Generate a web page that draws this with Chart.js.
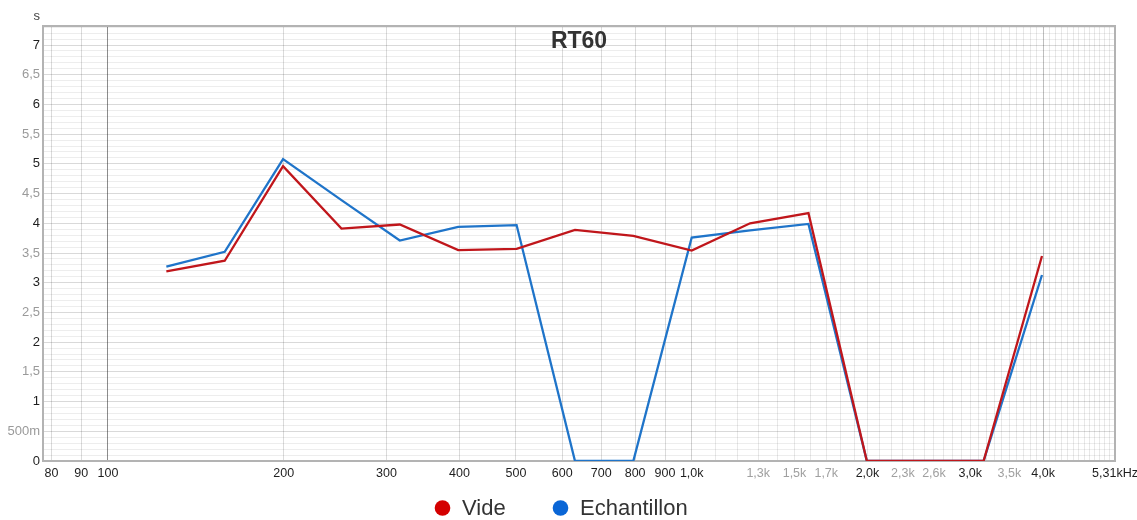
<!DOCTYPE html>
<html>
<head>
<meta charset="utf-8">
<title>RT60</title>
<script src="https://cdn.jsdelivr.net/npm/chart.js@4.4.1/dist/chart.umd.min.js"></script>
<style>
  html, body { margin: 0; padding: 0; background: #ffffff; }
  #wrap { position: relative; width: 1137px; height: 520px; }
</style>
</head>
<body>
<div id="wrap"><canvas id="rt60"></canvas></div>
<script>
// Third-octave band centres (Hz, exact base-10 values) and reverberation times (s)
const frequencies = [125.9, 158.5, 199.5, 251.2, 316.2, 398.1, 501.2, 631.0, 794.3, 1000, 1258.9, 1584.9, 1995.3, 2511.9, 3162.3, 3981.1];
const videRT60 = [3.19, 3.37, 4.96, 3.91, 3.98, 3.55, 3.57, 3.89, 3.79, 3.54, 4.00, 4.17, 0, 0, 0, 3.45];
const echantillonRT60 = [3.27, 3.52, 5.08, 4.39, 3.71, 3.94, 3.97, 0, 0, 3.76, 3.88, 3.99, 0, 0, 0, 3.13];

// Axis labels
const xTickValues = [80, 90, 100, 200, 300, 400, 500, 600, 700, 800, 900, 1000, 1300, 1500, 1700, 2000, 2300, 2600, 3000, 3500, 4000, 5310];
const xTickLabels = ['80', '90', '100', '200', '300', '400', '500', '600', '700', '800', '900', '1,0k', '1,3k', '1,5k', '1,7k', '2,0k', '2,3k', '2,6k', '3,0k', '3,5k', '4,0k', '5,31kHz'];
const xMutedLabels = ['1,3k', '1,5k', '1,7k', '2,3k', '2,6k', '3,5k'];
const yTickValues = [0, 0.5, 1, 1.5, 2, 2.5, 3, 3.5, 4, 4.5, 5, 5.5, 6, 6.5, 7];
const yTickLabels = ['0', '500m', '1', '1,5', '2', '2,5', '3', '3,5', '4', '4,5', '5', '5,5', '6', '6,5', '7'];

const X_MIN = 77.4, X_MAX = 5310;
const Y_MIN = 0, Y_MAX = 7.32;

// Grid: 10 Hz steps below 100 Hz, 100 Hz steps above; 0.1 s steps vertically
const xGrid = [80, 90];
for (let f = 100; f <= 5300; f += 100) xGrid.push(f);
xGrid.push(5310);
const yGrid = [];
for (let i = 0; i <= 73; i++) yGrid.push(i / 10);

const near = (a, b) => Math.abs(a - b) < 1e-6;
const xLabelOf = v => { const i = xTickValues.findIndex(t => near(t, v)); return i < 0 ? '' : xTickLabels[i]; };
const yLabelOf = v => { const i = yTickValues.findIndex(t => near(t, v)); return i < 0 ? '' : yTickLabels[i]; };

Chart.defaults.font.family = "'Liberation Sans', Arial, Helvetica, sans-serif";

const legendColors = ['#d40000', '#0a66d6'];

// Frame, title, unit and legend row drawn around the plot area
const decorations = {
  id: 'decorations',
  beforeDatasetsDraw(chart) {
    const { ctx, chartArea: a } = chart;
    ctx.save();
    ctx.strokeStyle = '#b3b3b3';
    ctx.lineWidth = 2;
    ctx.strokeRect(a.left, a.top, a.right - a.left, a.bottom - a.top);
    ctx.fillStyle = '#333333';
    ctx.font = "bold 23px 'Liberation Sans', Arial, sans-serif";
    ctx.textAlign = 'center';
    ctx.textBaseline = 'middle';
    ctx.fillText('RT60', (a.left + a.right) / 2, 42);
    ctx.font = "13px 'Liberation Sans', Arial, sans-serif";
    ctx.fillStyle = '#444444';
    ctx.textAlign = 'right';
    ctx.fillText('s', 40, 16);
    ctx.restore();
  },
  afterDraw(chart) {
    const { ctx } = chart;
    const sets = chart.data.datasets;
    ctx.save();
    ctx.font = "22px 'Liberation Sans', Arial, sans-serif";
    ctx.textBaseline = 'middle';
    ctx.textAlign = 'left';
    const y = 508;
    const positions = [442.5, 560.5];
    sets.forEach((ds, i) => {
      const cx = positions[i];
      ctx.beginPath();
      ctx.arc(cx, y, 7.8, 0, Math.PI * 2);
      ctx.fillStyle = legendColors[i];
      ctx.fill();
      ctx.fillStyle = '#333333';
      ctx.fillText(ds.label, cx + 19.5, y + 1);
    });
    ctx.restore();
  }
};

new Chart(document.getElementById('rt60'), {
  type: 'line',
  data: {
    datasets: [
      {
        label: 'Vide',
        data: frequencies.map((f, i) => ({ x: f, y: videRT60[i] })),
        borderColor: '#c0161b',
        backgroundColor: '#c0161b',
        borderWidth: 2.3,
        pointRadius: 0,
        tension: 0
      },
      {
        label: 'Echantillon',
        data: frequencies.map((f, i) => ({ x: f, y: echantillonRT60[i] })),
        borderColor: '#1f74c9',
        backgroundColor: '#1f74c9',
        borderWidth: 2.3,
        pointRadius: 0,
        tension: 0
      }
    ]
  },
  options: {
    responsive: true,
    maintainAspectRatio: false,
    animation: false,
    events: [],
    layout: { padding: { top: 26, right: 22, bottom: 0, left: 0 } },
    plugins: {
      legend: { display: false },
      title: { display: false },
      tooltip: { enabled: false }
    },
    scales: {
      x: {
        type: 'logarithmic',
        min: X_MIN,
        max: X_MAX,
        border: { display: false },
        afterBuildTicks: s => { s.ticks = xGrid.map(v => ({ value: v })); },
        afterFit: s => { s.height = 59; s.paddingLeft = 0; s.paddingRight = 0; },
        grid: {
          drawTicks: false,
          lineWidth: 1,
          color: c => {
            const v = c.tick.value;
            if (near(v, 100)) return 'rgba(0,0,0,0.45)';
            if (near(v, 4000)) return 'rgba(0,0,0,0.25)';
            if (near(v, 1000)) return 'rgba(0,0,0,0.18)';
            if (xLabelOf(v) && v < 1000) return 'rgba(0,0,0,0.14)';
            return 'rgba(0,0,0,0.09)';
          }
        },
        ticks: {
          autoSkip: false,
          maxRotation: 0,
          minRotation: 0,
          padding: 5,
          font: { size: 12.5 },
          color: c => xMutedLabels.includes(xLabelOf(c.tick.value)) ? '#a0a0a0' : '#1e1e1e',
          callback: v => xLabelOf(v)
        }
      },
      y: {
        type: 'linear',
        min: Y_MIN,
        max: Y_MAX,
        border: { display: false },
        afterBuildTicks: s => { s.ticks = yGrid.map(v => ({ value: v })); },
        afterFit: s => { s.width = 43; s.paddingTop = 0; s.paddingBottom = 0; },
        grid: {
          drawTicks: false,
          lineWidth: 1,
          color: c => {
            const v = c.tick.value;
            if (near(v * 2, Math.round(v * 2))) return 'rgba(0,0,0,0.15)';
            return 'rgba(0,0,0,0.07)';
          }
        },
        ticks: {
          autoSkip: false,
          padding: 3,
          font: { size: 13 },
          color: c => {
            const v = c.tick.value;
            return near(v, Math.round(v)) ? '#1e1e1e' : '#9a9a9a';
          },
          callback: v => yLabelOf(v)
        }
      }
    }
  },
  plugins: [decorations]
});
</script>
</body>
</html>
